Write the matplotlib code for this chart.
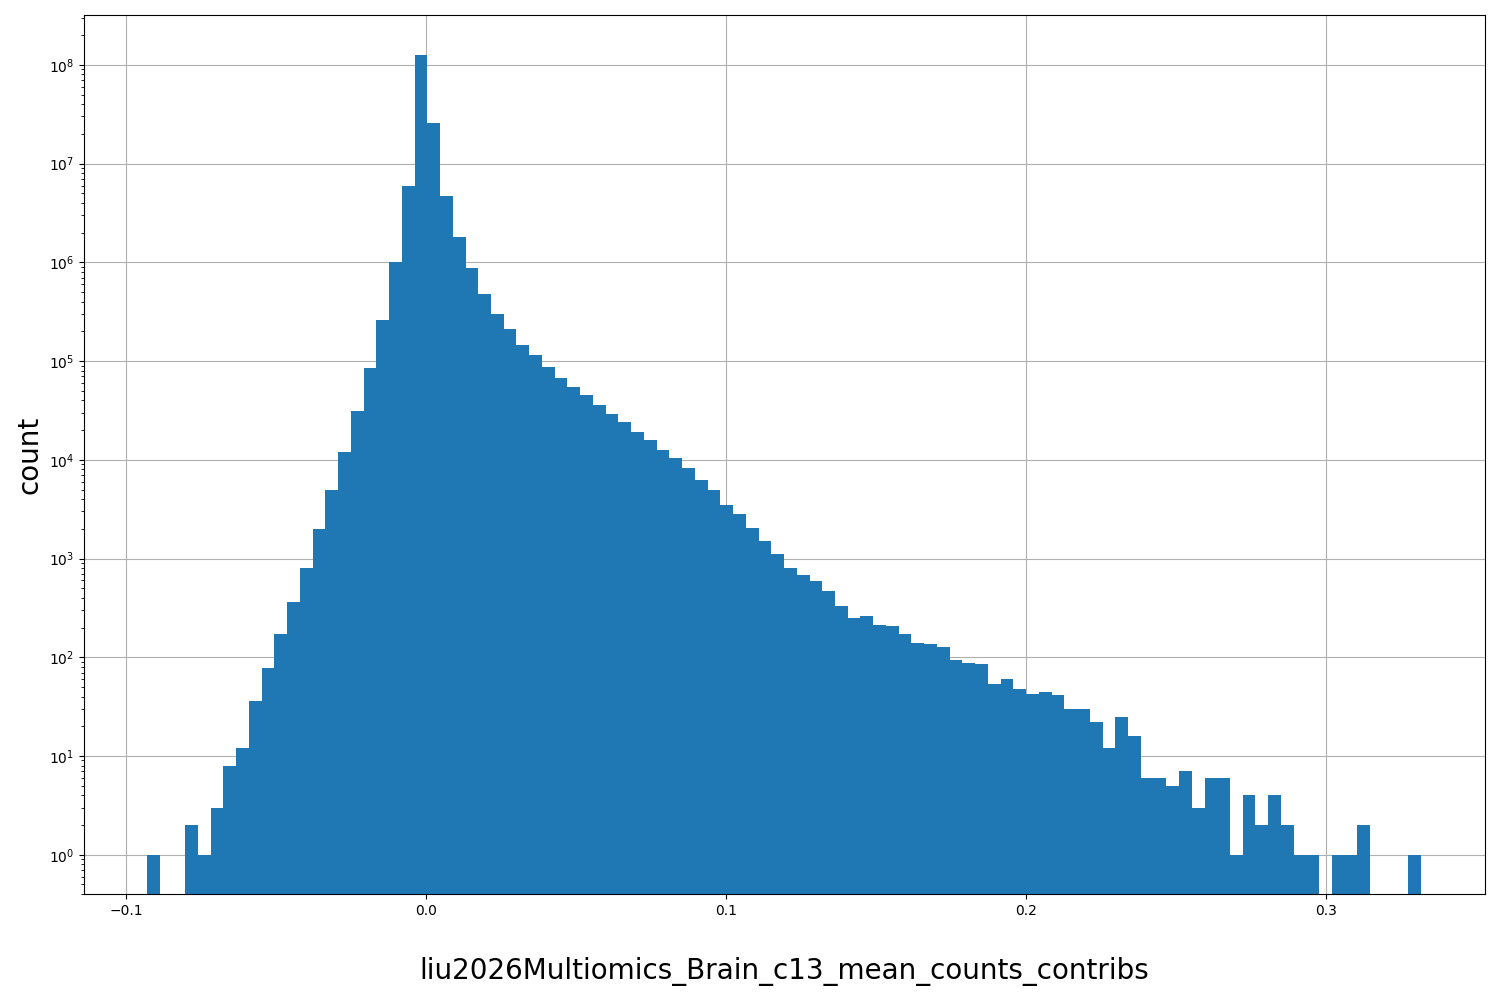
import numpy as np
import matplotlib

matplotlib.use("Agg")
import matplotlib.pyplot as plt

x_min = -0.0930
x_max = 0.3317
n_bins = 100

counts = [
    1, 0, 0, 2, 1, 3, 8, 12, 36, 78,
    170, 360, 800, 2000, 5000, 12000, 31000, 85000, 260000, 1000000,
    6000000, 125000000, 26000000, 4700000, 1800000, 880000, 480000, 300000, 210000, 145000,
    115000, 88000, 68000, 55000, 45000, 36000, 29000, 24000, 19000, 16000,
    12500, 10500, 8300, 6300, 5000, 3500, 2800, 2050, 1500, 1100,
    800, 680, 590, 470, 330, 250, 260, 210, 205, 170,
    140, 135, 128, 93, 88, 85, 53, 60, 48, 42,
    44, 41, 30, 30, 22, 12, 25, 16, 6, 6,
    5, 7, 3, 6, 6, 1, 4, 2, 4, 2,
    1, 1, 0, 1, 1, 2, 0, 0, 0, 1,
]

edges = np.linspace(x_min, x_max, n_bins + 1)

figure, axis = plt.subplots(figsize=(15, 10), dpi=100)
axis.hist(edges[:-1], bins=edges, weights=counts, log=True, color="#1f77b4", zorder=2)
axis.set_ylim(0.4, 3.2e8)
axis.set_xlim(-0.1140, 0.3530)
axis.grid(True, color="#b0b0b0", zorder=0)
axis.set_axisbelow(True)
axis.set_ylabel("count", fontsize=20)
axis.set_xlabel("liu2026Multiomics_Brain_c13_mean_counts_contribs", fontsize=20, labelpad=28)
figure.subplots_adjust(left=0.056, right=0.99, top=0.985, bottom=0.106)
figure.savefig("out.png", dpi=100)
